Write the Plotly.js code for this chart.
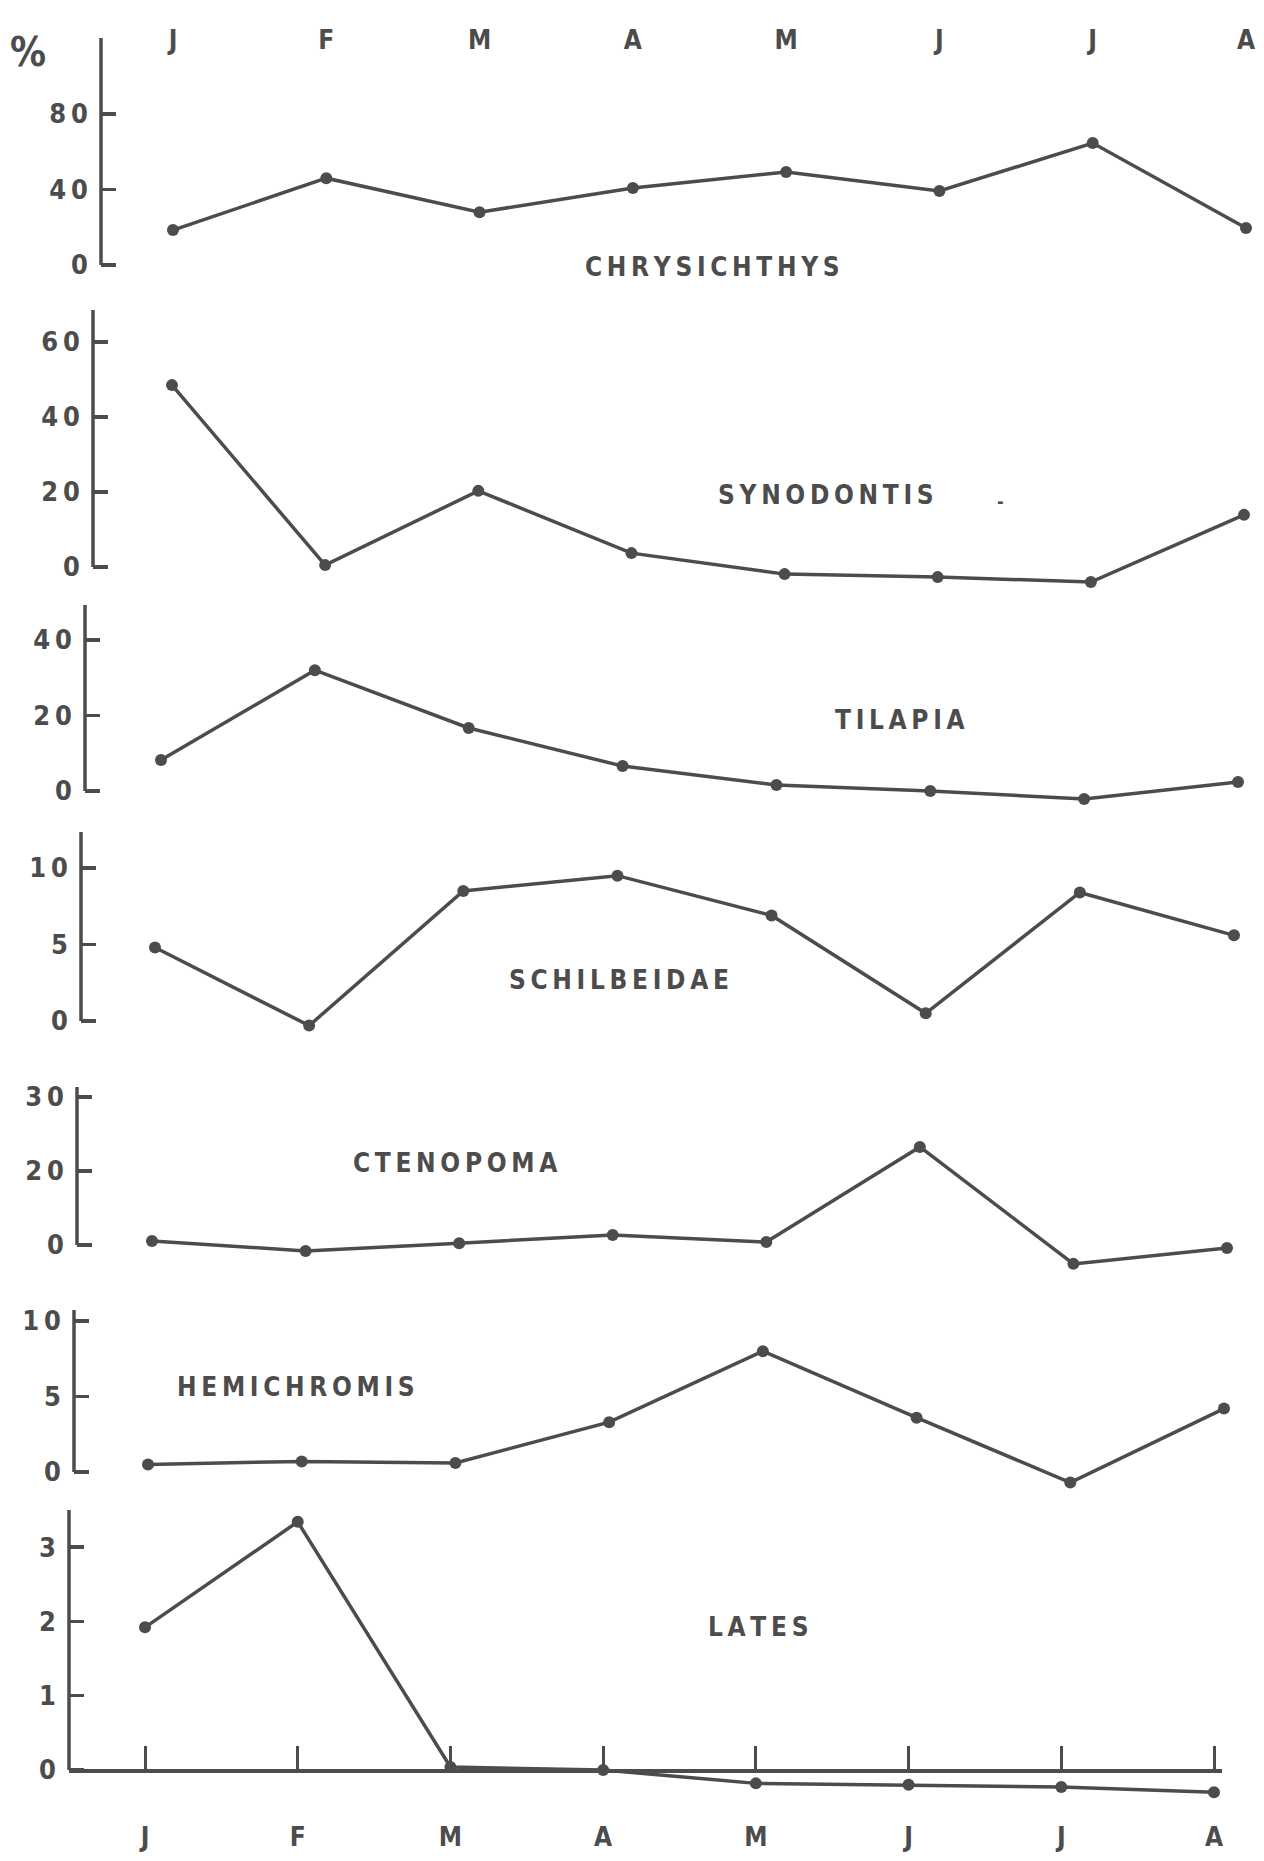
<!DOCTYPE html>
<html><head><meta charset="utf-8">
<script src="https://cdn.plot.ly/plotly-3.0.1.min.js"></script>
<style>html,body{margin:0;padding:0;background:#fff}#chart{width:1264px;height:1861px}</style>
</head><body><div id="chart"></div>
<script>
// ---- data (percent of catch by month) ----
const months = ['J','F','M','A','M','J','J','A'];
const chrysichthys = [18.5, 46, 28, 40.8, 49.3, 39.2, 64.6, 19.6];
const synodontis   = [48.5, 0.5, 20.3, 3.7, -1.9, -2.7, -4, 13.9];
const tilapia      = [8.2, 32, 16.7, 6.6, 1.6, 0, -2.1, 2.4];
const schilbeidae  = [4.8, -0.3, 8.5, 9.5, 6.9, 0.5, 8.4, 5.6];
const ctenopoma    = [1.1, -1.6, 0.5, 2.7, 0.8, 26.5, -5.1, -0.8];
const hemichromis  = [0.5, 0.7, 0.6, 3.3, 8, 3.6, -0.7, 4.2];
const lates        = [1.92, 3.34, 0.04, 0, -0.18, -0.2, -0.23, -0.3];

const names = ['CHRYSICHTHYS','SYNODONTIS','TILAPIA','SCHILBEIDAE','CTENOPOMA','HEMICHROMIS','LATES'];
const ticks1 = [0, 40, 80];
const ticks2 = [0, 20, 40, 60];
const ticks3 = [0, 20, 40];
const ticks4 = [0, 5, 10];
const ticks5 = [0, 20, 40];
const ticks5Text = ['0', '20', '30'];   // as labelled in the original figure
const ticks6 = [0, 5, 10];
const ticks7 = [0, 1, 2, 3];

// ---- layout geometry (pixels) ----
const W = 1264, H = 1861;
const ink = '#4c4c4c';
const fam = 'DejaVu Sans Condensed, DejaVu Sans, sans-serif';
const extra = 30;
const panels = [
  {y: chrysichthys, ticks: ticks1, axisX:101, jX:173, aX:1246, zeroY:265,  topY:38,   ppu:75.5/40, lx:712, ly:267},
  {y: synodontis,   ticks: ticks2, axisX:93,  jX:172, aX:1244, zeroY:567,  topY:310,  ppu:75/20,   lx:826, ly:495},
  {y: tilapia,      ticks: ticks3, axisX:85,  jX:161, aX:1238, zeroY:791,  topY:605,  ppu:75.5/20, lx:900, ly:720},
  {y: schilbeidae,  ticks: ticks4, axisX:81,  jX:155, aX:1234, zeroY:1021, topY:832,  ppu:76.5/5,  lx:619, ly:980},
  {y: ctenopoma,    ticks: ticks5, text: ticks5Text, axisX:77, jX:152, aX:1227, zeroY:1245, topY:1087, ppu:74/20, lx:455, ly:1163},
  {y: hemichromis,  ticks: ticks6, axisX:74,  jX:148, aX:1224, zeroY:1472, topY:1310, ppu:75.5/5,  lx:296, ly:1387},
  {y: lates,        ticks: ticks7, axisX:69,  jX:145, aX:1214, zeroY:1770, topY:1510, ppu:74.3,    lx:758, ly:1627}
];

const xIdx = months.map((m, i) => i);
const spaced = s => String(s).split('').join('\u2009');
const tfont = size => ({family: fam, size: size, color: ink, weight: 'bold'});

const data = [];
const layout = {
  width: W, height: H,
  margin: {l:0, r:0, t:0, b:0},
  paper_bgcolor: '#fff', plot_bgcolor: 'rgba(0,0,0,0)',
  showlegend: false,
  shapes: [], annotations: []
};

panels.forEach((p, i) => {
  const k = i + 1;
  const s = (p.aX - p.jX) / 7;
  const xEnd = (k === 7) ? 1222 : W;
  const topVal = (p.zeroY - p.topY) / p.ppu;
  data.push({
    type: 'scatter', mode: 'lines+markers', x: xIdx, y: p.y,
    xaxis: 'x' + k, yaxis: 'y' + k,
    line: {color: ink, width: 3.5}, marker: {size: 12, color: ink},
    cliponaxis: false, hoverinfo: 'skip'
  });
  const xa = {
    domain: [p.axisX / W, xEnd / W],
    range: [(p.axisX - p.jX) / s, (xEnd - p.jX) / s],
    showgrid: false, zeroline: false, showline: false, ticks: '',
    showticklabels: false, fixedrange: true,
    tickvals: xIdx, ticktext: months, tickfont: tfont(26)
  };
  if (k === 1) {
    Object.assign(xa, {side: 'top', anchor: 'free', position: (H - 54) / H, showticklabels: true});
  } else if (k === 7) {
    Object.assign(xa, {anchor: 'free', position: (H - p.zeroY) / H, showline: true, linewidth: 3.5,
      linecolor: ink, ticks: 'inside', ticklen: 23, tickwidth: 3, tickcolor: ink,
      showticklabels: true, ticklabelstandoff: 42});
  } else {
    xa.anchor = 'y' + k;
  }
  layout['xaxis' + k] = xa;
  layout['yaxis' + k] = {
    anchor: 'x' + k,
    domain: [(H - p.zeroY - extra) / H, (H - p.topY) / H],
    range: [-extra / p.ppu, topVal],
    showgrid: false, zeroline: false, showline: false, fixedrange: true,
    ticks: 'inside', ticklen: 15, tickwidth: 3.5, tickcolor: ink,
    tickvals: p.ticks, ticktext: (p.text || p.ticks).map(spaced),
    tickfont: tfont(27), ticklabelstandoff: 12
  };
  layout.shapes.push({type: 'line', xref: 'x' + k + ' domain', yref: 'y' + k,
    x0: 0, x1: 0, y0: 0, y1: topVal, line: {color: ink, width: 3.5}});
  layout.annotations.push({xref: 'paper', yref: 'paper', x: p.lx / W, y: (H - p.ly) / H,
    text: spaced(names[i]), showarrow: false, font: tfont(26), xanchor: 'center', yanchor: 'middle'});
});

layout.annotations.push({xref: 'paper', yref: 'paper', x: 28 / W, y: (H - 52) / H,
  text: '%', showarrow: false, font: tfont(40), xanchor: 'center', yanchor: 'middle'});
layout.annotations.push({xref: 'paper', yref: 'paper', x: 1000 / W, y: (H - 501) / H,
  text: '-', showarrow: false, font: tfont(18), xanchor: 'center', yanchor: 'middle'});

Plotly.newPlot('chart', data, layout, {staticPlot: true, displayModeBar: false});
</script>
</body></html>
